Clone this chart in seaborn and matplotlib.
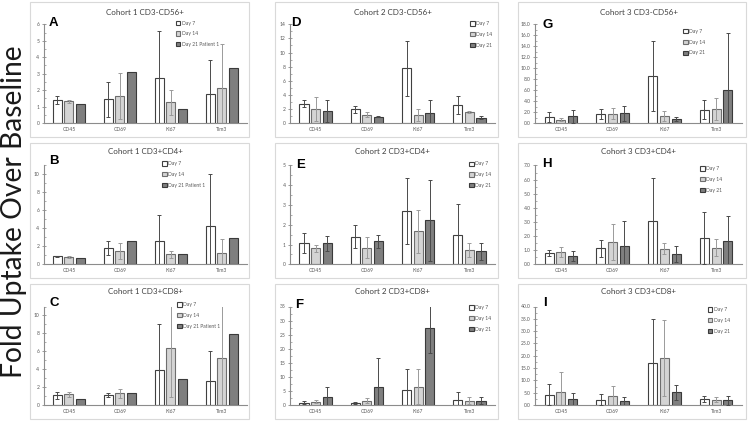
import numpy as np
import pandas as pd
import matplotlib
matplotlib.use("Agg")
import matplotlib.pyplot as plt
import seaborn as sns
from matplotlib.patches import Rectangle
from matplotlib.ticker import MultipleLocator, AutoMinorLocator, FormatStrFormatter

# ---------------- data ----------------
categories = ["CD45", "CD69", "Ki67", "Tim3"]
days_c1 = ["Day 7", "Day 14", "Day 21 Patient 1"]
days_c23 = ["Day 7", "Day 14", "Day 21"]

# Panel A  Cohort 1 CD3-CD56+
a_d7 = [1.42, 1.44, 2.72, 1.79];  a_d7_err = [0.25, 1.07, 2.90, 2.07]
a_d14 = [1.32, 1.63, 1.26, 2.11]; a_d14_err = [0.08, 1.40, 0.77, 2.69]
a_d21 = [1.18, 3.09, 0.87, 3.33]; a_d21_err = [None, None, None, None]
# Panel B  Cohort 1 CD3+CD4+
b_d7 = [0.90, 1.78, 2.60, 4.22];  b_d7_err = [0.06, 0.78, 2.85, 5.80]
b_d14 = [0.78, 1.45, 1.10, 1.25]; b_d14_err = [0.12, 0.88, 0.35, 1.55]
b_d21 = [0.67, 2.60, 1.10, 2.96]; b_d21_err = [None, None, None, None]
# Panel C  Cohort 1 CD3+CD8+
c_d7 = [1.08, 1.16, 3.90, 2.72];  c_d7_err = [0.38, 0.23, 5.15, 3.33]
c_d14 = [1.19, 1.30, 6.35, 5.23]; c_d14_err = [0.28, 0.53, 5.50, 6.50]
c_d21 = [0.71, 1.30, 2.88, 7.95]; c_d21_err = [None, None, None, None]
# Panel D  Cohort 2 CD3-CD56+
d_d7 = [2.75, 1.95, 7.74, 2.60];  d_d7_err = [0.50, 0.50, 3.90, 1.30]
d_d14 = [2.04, 1.20, 1.14, 1.57]; d_d14_err = [1.70, 0.35, 0.90, 0.10]
d_d21 = [1.70, 0.90, 1.42, 0.76]; d_d21_err = [1.60, 0.10, 1.90, 0.20]
# Panel E  Cohort 2 CD3+CD4+
e_d7 = [1.06, 1.40, 2.70, 1.50];  e_d7_err = [0.50, 0.60, 1.67, 1.55]
e_d14 = [0.82, 0.84, 1.66, 0.72]; e_d14_err = [0.18, 0.52, 1.10, 0.35]
e_d21 = [1.06, 1.16, 2.22, 0.65]; e_d21_err = [0.38, 0.33, 2.05, 0.43]
# Panel F  Cohort 2 CD3+CD8+
f_d7 = [0.83, 0.70, 5.34, 1.90];  f_d7_err = [0.50, 0.50, 7.50, 2.60]
f_d14 = [1.19, 1.54, 6.50, 1.54]; f_d14_err = [0.60, 1.00, 6.30, 1.20]
f_d21 = [2.97, 6.50, 27.3, 1.54]; f_d21_err = [3.50, 10.1, 9.00, 1.30]
# Panel G  Cohort 3 CD3-CD56+
g_d7 = [1.09, 1.70, 8.55, 2.42];  g_d7_err = [0.90, 0.90, 6.40, 1.70]
g_d14 = [0.60, 1.70, 1.33, 2.55]; g_d14_err = [0.30, 1.05, 0.90, 2.05]
g_d21 = [1.20, 1.76, 0.73, 5.94]; g_d21_err = [1.20, 1.40, 0.35, 10.5]
# Panel H  Cohort 3 CD3+CD4+
h_d7 = [0.82, 1.12, 3.04, 1.87];  h_d7_err = [0.20, 0.62, 3.10, 1.85]
h_d14 = [0.89, 1.60, 1.10, 1.19]; h_d14_err = [0.35, 1.28, 0.40, 0.57]
h_d21 = [0.61, 1.29, 0.75, 1.62]; h_d21_err = [0.35, 1.80, 0.58, 1.80]
# Panel I  Cohort 3 CD3+CD8+
i_d7 = [4.23, 2.20, 17.05, 2.60];  i_d7_err = [4.20, 2.30, 17.7, 1.20]
i_d14 = [5.20, 3.55, 18.96, 2.20]; i_d14_err = [8.20, 4.10, 15.4, 1.00]
i_d21 = [2.30, 1.50, 5.20, 1.90];  i_d21_err = [2.75, 1.80, 3.00, 1.80]

titles = {
    "A": "Cohort 1 CD3-CD56+", "B": "Cohort 1 CD3+CD4+", "C": "Cohort 1 CD3+CD8+",
    "D": "Cohort 2 CD3-CD56+", "E": "Cohort 2 CD3+CD4+", "F": "Cohort 2 CD3+CD8+",
    "G": "Cohort 3 CD3-CD56+", "H": "Cohort 3 CD3+CD4+", "I": "Cohort 3 CD3+CD8+",
}
panel_data = {
    "A": ([a_d7, a_d14, a_d21], [a_d7_err, a_d14_err, a_d21_err], days_c1),
    "B": ([b_d7, b_d14, b_d21], [b_d7_err, b_d14_err, b_d21_err], days_c1),
    "C": ([c_d7, c_d14, c_d21], [c_d7_err, c_d14_err, c_d21_err], days_c1),
    "D": ([d_d7, d_d14, d_d21], [d_d7_err, d_d14_err, d_d21_err], days_c23),
    "E": ([e_d7, e_d14, e_d21], [e_d7_err, e_d14_err, e_d21_err], days_c23),
    "F": ([f_d7, f_d14, f_d21], [f_d7_err, f_d14_err, f_d21_err], days_c23),
    "G": ([g_d7, g_d14, g_d21], [g_d7_err, g_d14_err, g_d21_err], days_c23),
    "H": ([h_d7, h_d14, h_d21], [h_d7_err, h_d14_err, h_d21_err], days_c23),
    "I": ([i_d7, i_d14, i_d21], [i_d7_err, i_d14_err, i_d21_err], days_c23),
}
# y axis: (max, major step, format)
yaxis = {
    "A": (6, 1, "%d"), "B": (11, 2, "%d"), "C": (11, 2, "%d"),
    "D": (14, 2, "%d"), "E": (5, 1, "%d"), "F": (35, 5, "%d"),
    "G": (18, 2, "%.1f"), "H": (7, 1, "%.1f"), "I": (40, 5, "%.1f"),
}

# ---------------- style ----------------
sns.set_theme(style="white")
plt.rcParams["font.family"] = ["Lato", "DejaVu Sans"]

W, H = 750, 422
fig = plt.figure(figsize=(W / 100, H / 100), dpi=100)

fills = ["#ffffff", "#d4d4d4", "#7f7f7f"]
edges = ["#404040", "#6e6e6e", "#3a3a3a"]
ecols = ["#4a4a4a", "#9a9a9a", "#4a4a4a"]
spine_col = "#8c8c8c"

col_left = [43.5, 290, 535]
col_right = [247, 495, 742]
row_top = [24.3, 165.5, 306.5]
row_bot = [123, 264.3, 405]
box_x = [(30, 249), (275, 498), (518, 746)]
box_y = [(2, 137), (143, 278), (284, 419)]
title_y = [12.5, 151.5, 292]
letter_pos = {"A": (49, 22.7), "B": (49.5, 161), "C": (49.5, 303.5),
              "D": (291.5, 23.3), "E": (296, 165), "F": (295.5, 305),
              "G": (542.5, 25), "H": (542.5, 164), "I": (543, 303.5)}
legend_pos = {"A": (175.7, 23.3), "B": (162, 164), "C": (177, 305),
              "D": (470, 24), "E": (469, 164.3), "F": (469, 308),
              "G": (683, 31.7), "H": (700, 169), "I": (707.7, 310)}
layout = {"A": (0, 0), "B": (1, 0), "C": (2, 0),
          "D": (0, 1), "E": (1, 1), "F": (2, 1),
          "G": (0, 2), "H": (1, 2), "I": (2, 2)}

# big shared label
fig.text(14 / W, 1 - 212 / H, "Fold Uptake Over Baseline", rotation=90,
         ha="center", va="center", fontsize=20.3, color="#1a1a1a")

for key, (r, c) in layout.items():
    # panel frame
    x0, x1 = box_x[c]
    y0, y1 = box_y[r]
    fig.add_artist(Rectangle((x0 / W, 1 - y1 / H), (x1 - x0) / W, (y1 - y0) / H,
                             transform=fig.transFigure, fill=False,
                             edgecolor="#d9d9d9", lw=0.8))
    ax = fig.add_axes([col_left[c] / W, 1 - row_bot[r] / H,
                       (col_right[c] - col_left[c]) / W,
                       (row_bot[r] - row_top[r]) / H])
    vals, errs, days = panel_data[key]
    df = pd.DataFrame({
        "marker": categories * 3,
        "day": sum([[d] * 4 for d in days], []),
        "value": sum(vals, []),
    })
    sns.barplot(data=df, x="marker", y="value", hue="day", hue_order=days,
                order=categories, palette=fills, width=0.68, gap=0.22,
                errorbar=None, edgecolor="#404040", linewidth=0.8, ax=ax,
                saturation=1)
    bar_conts = list(ax.containers)
    for i, cont in enumerate(bar_conts):
        for bar in cont:
            bar.set_edgecolor(edges[i])
            bar.set_facecolor(fills[i])
        xs, ys, es = [], [], []
        for bar, e in zip(cont, errs[i]):
            if e is None:
                continue
            xs.append(bar.get_x() + bar.get_width() / 2)
            ys.append(bar.get_height())
            es.append(e)
        if xs:
            ax.errorbar(xs, ys, yerr=es, fmt="none", ecolor=ecols[i],
                        elinewidth=0.7, capsize=1.6, capthick=0.7, zorder=5)
    ymax, step, fmt = yaxis[key]
    ax.set_ylim(0, ymax)
    ax.set_xlim(-0.5, 3.5)
    ax.yaxis.set_major_locator(MultipleLocator(step))
    ax.yaxis.set_minor_locator(AutoMinorLocator(2))
    ax.yaxis.set_major_formatter(FormatStrFormatter(fmt))
    ax.set_xlabel("")
    ax.set_ylabel("")
    ax.set_facecolor("none")
    for s in ["top", "right"]:
        ax.spines[s].set_visible(False)
    for s in ["left", "bottom"]:
        ax.spines[s].set_color(spine_col)
        ax.spines[s].set_linewidth(0.8)
    ax.tick_params(axis="y", which="major", direction="inout", length=3,
                   width=0.6, color=spine_col, labelsize=3.6, pad=1.5,
                   labelcolor="#595959", left=True)
    ax.tick_params(axis="y", which="minor", direction="in", length=1.5,
                   width=0.5, color=spine_col, left=True)
    ax.tick_params(axis="x", length=0, labelsize=3.6, pad=3,
                   labelcolor="#595959")
    # legend
    handles = [cont.patches[0] for cont in bar_conts]
    labels = list(days)
    if ax.legend_ is not None:
        ax.legend_.remove()
    lx, ly = legend_pos[key]
    leg = ax.legend(handles, labels, loc="upper left",
                    bbox_to_anchor=(lx / W, 1 - (ly - 2.8) / H),
                    bbox_transform=fig.transFigure, frameon=False,
                    fontsize=3.6, handlelength=0.9, handleheight=0.9,
                    handletextpad=0.3, labelspacing=1.15, borderpad=0,
                    borderaxespad=0)
    for t in leg.get_texts():
        t.set_color("#595959")
    # title and letter
    fig.text((col_left[c] + col_right[c]) / 2 / W, 1 - title_y[r] / H,
             titles[key], ha="center", va="center", fontsize=5.8,
             color="#404040")
    lxp, lyp = letter_pos[key]
    fig.text(lxp / W, 1 - lyp / H, key, ha="left", va="center",
             fontsize=9.5, fontweight="bold", family="Liberation Sans",
             color="#000000")

fig.savefig("out.png", dpi=100)
